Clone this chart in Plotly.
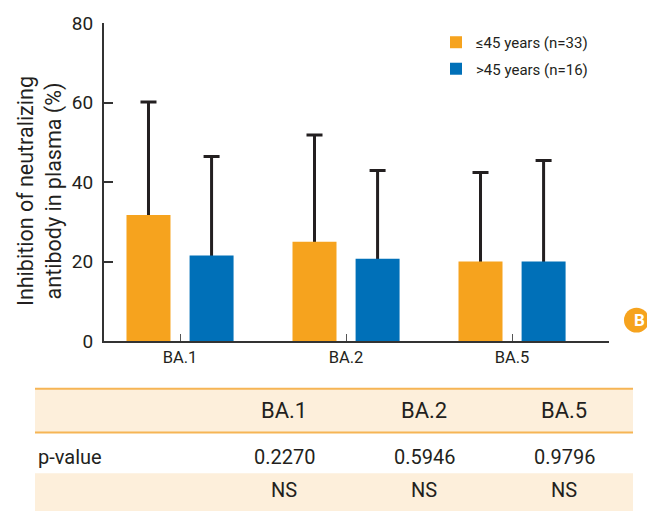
import plotly.graph_objects as go

categories = ["BA.1", "BA.2", "BA.5"]
young_mean = [31.7, 25.0, 20.0]
young_sd = [28.4, 26.8, 22.4]
old_mean = [21.5, 20.7, 20.0]
old_sd = [24.9, 22.2, 25.4]
series_names = ["≤45 years (n=33)", ">45 years (n=16)"]
p_values = ["0.2270", "0.5946", "0.9796"]
significance = ["NS", "NS", "NS"]

ORANGE = "#F6A31E"
BLUE = "#0070B8"
DARK = "#231F20"
CREAM = "#FDEFDB"
LINE = "#F6B555"
FONT = "Roboto, Arial, sans-serif"

W, H = 647, 512
L, R, T, B = 104, 38, 21, 171
pw, ph = W - L - R, H - T - B

def px(x):
    return (x - L) / pw

def py(y):
    return (H - B - y) / ph

bar_w = 0.265
offs = [-0.3225, 0.0575]

fig = go.Figure()
# error bars (drawn beneath bars so only the upper whisker shows)
for i, (m, s) in enumerate([(young_mean, young_sd), (old_mean, old_sd)]):
    fig.add_trace(go.Bar(
        x=categories, y=m, width=bar_w, offset=offs[i],
        marker=dict(color="rgba(0,0,0,0)", line=dict(width=0)),
        error_y=dict(type="data", symmetric=False, array=s, arrayminus=m,
                     color=DARK, thickness=3, width=8),
        showlegend=False, hoverinfo="skip"))
for i, (m, c) in enumerate([(young_mean, ORANGE), (old_mean, BLUE)]):
    fig.add_trace(go.Bar(
        x=categories, y=m, width=bar_w, offset=offs[i], name=series_names[i],
        marker=dict(color=c, line=dict(width=0)), legendgroup=f"g{i}"))

fig.update_layout(
    width=W, height=H, barmode="overlay",
    margin=dict(l=L, r=R, t=T, b=B, pad=0),
    paper_bgcolor="white", plot_bgcolor="white",
    font=dict(family=FONT, color=DARK),
    showlegend=True,
    legend=dict(x=px(436), y=py(24), xanchor="left", yanchor="top",
                font=dict(size=15, color=DARK), traceorder="grouped",
                tracegroupgap=4, bgcolor="rgba(0,0,0,0)"),
    xaxis=dict(range=[-0.458, 2.584], showline=True, linecolor="#333333", linewidth=2,
               ticks="inside", ticklen=7, tickcolor="#555555", tickwidth=1,
               tickfont=dict(size=16.5, color=DARK), showgrid=False, zeroline=False,
               fixedrange=True),
    yaxis=dict(range=[0, 80], tickvals=[0, 20, 40, 60, 80], showline=True,
               linecolor="#333333", linewidth=2, ticks="inside", ticklen=9,
               tickcolor="#333333", tickwidth=2, tickfont=dict(size=19, color=DARK),
               showgrid=False, zeroline=False, ticklabelstandoff=5),
)

# y-axis title
fig.add_annotation(text="Inhibition of neutralizing<br>antibody in plasma (%)",
                   xref="paper", yref="paper", x=px(40), y=py(190),
                   textangle=-90, showarrow=False, font=dict(size=21.5, color=DARK),
                   xanchor="center", yanchor="middle")

# panel label
fig.add_shape(type="circle", xref="paper", yref="paper",
              x0=px(624), x1=px(649), y0=py(332.5), y1=py(307.5),
              fillcolor=ORANGE, line=dict(width=0))
fig.add_annotation(text="<b>B</b>", xref="paper", yref="paper", x=px(639), y=py(320),
                   showarrow=False, font=dict(size=17, color="white", family="Roboto, Arial"),
                   xanchor="center", yanchor="middle")

# table
tx0, tx1 = 35, 633
fig.add_shape(type="rect", xref="paper", yref="paper", x0=px(tx0), x1=px(tx1),
              y0=py(433), y1=py(389), fillcolor=CREAM, line=dict(width=0), layer="below")
fig.add_shape(type="rect", xref="paper", yref="paper", x0=px(tx0), x1=px(tx1),
              y0=py(512), y1=py(474), fillcolor=CREAM, line=dict(width=0), layer="below")
for yy in (389, 433):
    fig.add_shape(type="line", xref="paper", yref="paper", x0=px(tx0), x1=px(tx1),
                  y0=py(yy), y1=py(yy), line=dict(color=LINE, width=2))

col_x = [284, 424, 564]
for cx, cat, pv, sg in zip(col_x, categories, p_values, significance):
    fig.add_annotation(text=cat, xref="paper", yref="paper", x=px(cx), y=py(411),
                       showarrow=False, font=dict(size=22, color=DARK),
                       xanchor="center", yanchor="middle")
    fig.add_annotation(text=pv, xref="paper", yref="paper", x=px(cx), y=py(458),
                       showarrow=False, font=dict(size=20, color=DARK),
                       xanchor="center", yanchor="middle")
    fig.add_annotation(text=sg, xref="paper", yref="paper", x=px(cx), y=py(491),
                       showarrow=False, font=dict(size=20, color=DARK),
                       xanchor="center", yanchor="middle")
fig.add_annotation(text="p-value", xref="paper", yref="paper", x=px(36), y=py(458),
                   showarrow=False, font=dict(size=20, color=DARK),
                   xanchor="left", yanchor="middle")

fig.write_html("out.html", config={"displayModeBar": False},
               post_script="document.body.style.margin='0px';")
